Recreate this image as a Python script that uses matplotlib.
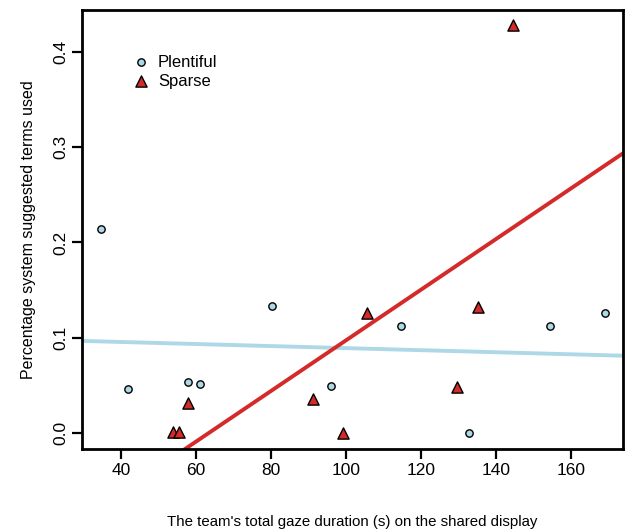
import matplotlib
matplotlib.use("Agg")
import matplotlib.pyplot as plt
import numpy as np

plt.rcParams['font.family'] = ['Liberation Sans', 'DejaVu Sans']

plentiful_x = [34.7, 42.0, 57.9, 61.2, 80.2, 95.9, 114.6, 132.7, 154.5, 169.0]
plentiful_y = [0.214, 0.046, 0.054, 0.051, 0.133, 0.049, 0.112, 0.000, 0.112, 0.126]
sparse_x = [54.0, 55.5, 58.0, 91.1, 99.3, 105.7, 129.6, 135.2, 144.5]
sparse_y = [0.001, 0.001, 0.031, 0.036, 0.000, 0.126, 0.048, 0.132, 0.428]

xticks = [40, 60, 80, 100, 120, 140, 160]
yticks = [0.0, 0.1, 0.2, 0.3, 0.4]
legend_labels = ['Plentiful', 'Sparse']

BLUE = '#ADD8E6'
RED = '#D42A2A'

fig = plt.figure(figsize=(6.28, 5.31), dpi=100)
ax = fig.add_axes([82/628, 1-449/531, (623-82)/628, (449-10)/531])
ax.set_xlim(29.6, 173.9)
ax.set_ylim(-0.0168, 0.444)

xs = np.array(ax.get_xlim())
for px, py, col in [(plentiful_x, plentiful_y, BLUE), (sparse_x, sparse_y, RED)]:
    b, a = np.polyfit(px, py, 1)
    ax.plot(xs, a + b*xs, color=col, lw=2.8, zorder=2, solid_capstyle='butt')

ax.scatter(plentiful_x, plentiful_y, s=28, marker='o', facecolor=BLUE,
           edgecolor='black', linewidth=1.0, zorder=3)
ax.scatter(sparse_x, sparse_y, s=65, marker='^', facecolor=RED,
           edgecolor='black', linewidth=1.0, zorder=3)

ax.set_xticks(xticks)
ax.set_xticklabels([str(t) for t in xticks])
ax.set_yticks(yticks)
ax.set_yticklabels([f"{t:.1f}" for t in yticks], rotation=90, va='center')
ax.tick_params(axis='both', direction='out', length=7, width=1.6, labelsize=12.5,
               pad=3)
for s in ax.spines.values():
    s.set_linewidth(2)

ax.set_xlabel("The team's total gaze duration (s) on the shared display", fontsize=10.8,
              labelpad=27)
ax.set_ylabel("Percentage system suggested terms used", fontsize=11.5, labelpad=12)

# manual legend
ax.scatter([0.109], [0.8815], s=28, marker='o', facecolor=BLUE, edgecolor='black',
           linewidth=1.0, transform=ax.transAxes, clip_on=False, zorder=4)
ax.scatter([0.109], [0.838], s=65, marker='^', facecolor=RED, edgecolor='black',
           linewidth=1.0, transform=ax.transAxes, clip_on=False, zorder=4)
ax.text(0.1405, 0.8815, legend_labels[0], transform=ax.transAxes, va='center',
        ha='left', fontsize=12)
ax.text(0.1405, 0.838, legend_labels[1], transform=ax.transAxes, va='center',
        ha='left', fontsize=12)

fig.savefig('out.png', dpi=100)
